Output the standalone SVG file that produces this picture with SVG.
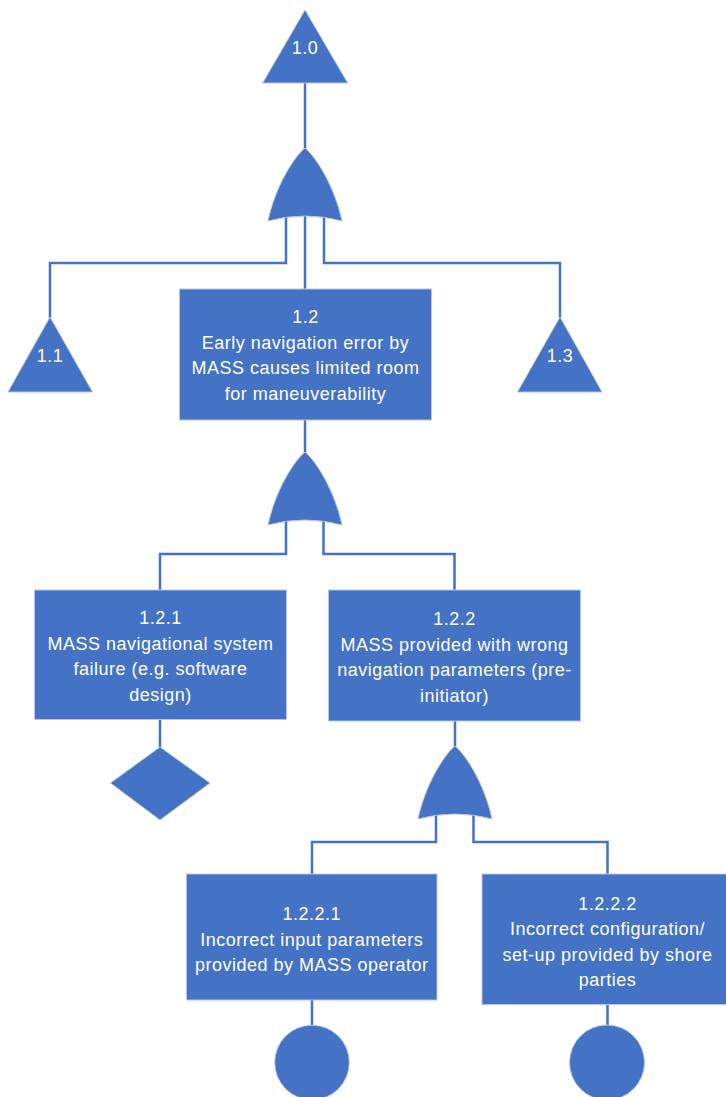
<svg xmlns="http://www.w3.org/2000/svg" width="726" height="1097" viewBox="0 0 726 1097">
  <defs>
    <style>
      .shape { fill: #4472C4; stroke: #b9c5de; stroke-width: 1; }
      .wire { fill: none; stroke: #4472C4; stroke-width: 2.5; }
      .label { fill: #ffffff; font-family: "Liberation Sans", Arial, sans-serif; font-size: 18px; letter-spacing: 0.5px; text-anchor: middle; }
    </style>
    <!-- OR gate outline, origin at the apex -->
    <path id="orGate" d="M0,0 C-12,10 -30,40 -37,73 Q0,63 37,73 C30,40 12,10 0,0 Z"/>
  </defs>

  <rect width="726" height="1097" fill="#ffffff"/>

  <!-- connectors -->
  <g id="connectors">
    <path class="wire" d="M305,83 V152"/>
    <path class="wire" d="M305,200 V289"/>
    <path class="wire" d="M286,200 V263 H50 V318"/>
    <path class="wire" d="M324,200 V263 H560 V318"/>
    <path class="wire" d="M305,420 V455"/>
    <path class="wire" d="M286,505 V554 H160 V590"/>
    <path class="wire" d="M323.5,505 V554 H454.5 V590"/>
    <path class="wire" d="M160,719 V748"/>
    <path class="wire" d="M455,721 V749"/>
    <path class="wire" d="M436,800 V842 H312 V874"/>
    <path class="wire" d="M473.5,800 V842 H607.5 V874"/>
    <path class="wire" d="M312,1000 V1026"/>
    <path class="wire" d="M607.5,1004 V1026"/>
  </g>

  <!-- top event -->
  <g id="node-1-0">
    <polygon class="shape" points="305,10 347.7,83 262.7,83"/>
    <text class="label" x="305" y="53.5">1.0</text>
  </g>

  <g id="gate-1">
    <use href="#orGate" class="shape" transform="translate(305,148)"/>
  </g>

  <g id="node-1-1">
    <polygon class="shape" points="50,317 92.5,392 8,392"/>
    <text class="label" x="50" y="362">1.1</text>
  </g>

  <g id="node-1-3">
    <polygon class="shape" points="560,317 602,392 517.5,392"/>
    <text class="label" x="560" y="362">1.3</text>
  </g>

  <g id="node-1-2">
    <rect class="shape" x="179.5" y="289" width="252" height="131"/>
    <text class="label" x="305.5" y="323">1.2</text>
    <text class="label" x="305.5" y="348.5">Early navigation error by</text>
    <text class="label" x="305.5" y="374">MASS causes limited room</text>
    <text class="label" x="305.5" y="399.5">for maneuverability</text>
  </g>

  <g id="gate-2">
    <use href="#orGate" class="shape" transform="translate(305,452)"/>
  </g>

  <g id="node-1-2-1">
    <rect class="shape" x="34.5" y="590" width="252" height="129.5"/>
    <text class="label" x="160.5" y="624">1.2.1</text>
    <text class="label" x="160.5" y="649.5">MASS navigational system</text>
    <text class="label" x="160.5" y="675">failure (e.g. software</text>
    <text class="label" x="160.5" y="700.5">design)</text>
  </g>

  <g id="node-1-2-1-undeveloped">
    <polygon class="shape" points="160,747 210,783 160,820 110.5,783"/>
  </g>

  <g id="node-1-2-2">
    <rect class="shape" x="328.5" y="590" width="252" height="131"/>
    <text class="label" x="454.5" y="625">1.2.2</text>
    <text class="label" x="454.5" y="650.5">MASS provided with wrong</text>
    <text class="label" x="454.5" y="676">navigation parameters (pre-</text>
    <text class="label" x="454.5" y="701.5">initiator)</text>
  </g>

  <g id="gate-3">
    <use href="#orGate" class="shape" transform="translate(455,746)"/>
  </g>

  <g id="node-1-2-2-1">
    <rect class="shape" x="186.5" y="874" width="250.5" height="126"/>
    <text class="label" x="311.75" y="920">1.2.2.1</text>
    <text class="label" x="311.75" y="945.5">Incorrect input parameters</text>
    <text class="label" x="311.75" y="971">provided by MASS operator</text>
  </g>

  <g id="node-1-2-2-1-basic">
    <circle class="shape" cx="312" cy="1062.5" r="37.3"/>
  </g>

  <g id="node-1-2-2-2">
    <rect class="shape" x="482" y="874" width="251" height="130.5"/>
    <text class="label" x="607.5" y="909.5">1.2.2.2</text>
    <text class="label" x="607.5" y="935">Incorrect configuration/</text>
    <text class="label" x="607.5" y="960.5">set-up provided by shore</text>
    <text class="label" x="607.5" y="986">parties</text>
  </g>

  <g id="node-1-2-2-2-basic">
    <circle class="shape" cx="607" cy="1062.5" r="37.5"/>
  </g>
</svg>
